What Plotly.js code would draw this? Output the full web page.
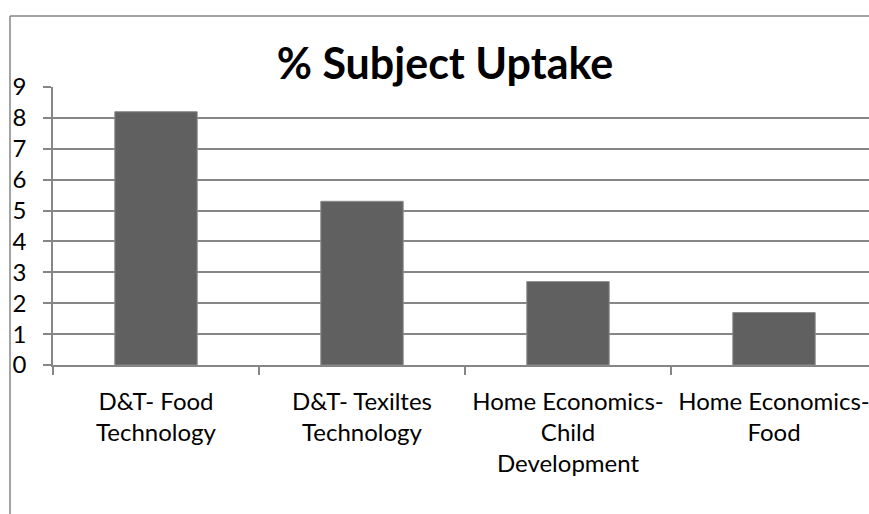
<!DOCTYPE html>
<html>
<head>
<meta charset="utf-8">
<script src="https://cdn.plot.ly/plotly-3.0.1.min.js"></script>
<style>
html,body{margin:0;padding:0;overflow:hidden;background:#fff;width:869px;height:514px;}
#chart{width:890px;height:514px;}
</style>
</head>
<body>
<div id="chart"></div>
<script>
const categories = [
  "D&T- Food<br>Technology",
  "D&T- Texiltes<br>Technology",
  "Home Economics-<br>Child<br>Development",
  "Home Economics-<br>Food"
];
const uptake = [8.2, 5.3, 2.7, 1.7];
const yTicks = [0, 1, 2, 3, 4, 5, 6, 7, 8, 9];
const titleText = "% Subject Uptake";

const FONT = "Lato, Carlito, Calibri, sans-serif";
const GRID = "#868686";

const W = 890, H = 514, ML = 53, MR = 13, MT = 87, MB = 149;
const pw = W - ML - MR, ph = H - MT - MB;

Plotly.newPlot("chart", [{
  type: "bar",
  x: categories,
  y: uptake,
  marker: {color: "#606060", line: {color: "#8c8c8c", width: 1}},
  hoverinfo: "x+y"
}], {
  width: W, height: H,
  margin: {l: ML, r: MR, t: MT, b: MB, pad: 0},
  paper_bgcolor: "#ffffff",
  plot_bgcolor: "#ffffff",
  showlegend: false,
  bargap: 0.6,
  font: {family: FONT, color: "#000000", size: 24},
  title: {
    text: "<b>" + titleText + "</b>",
    font: {family: FONT, size: 43, color: "#000000"},
    xref: "paper", x: (445 - ML) / pw, xanchor: "center",
    yref: "container", y: 1 - 64 / H, yanchor: "middle"
  },
  xaxis: {
    type: "category",
    showline: true, linecolor: GRID, linewidth: 1.5,
    ticks: "outside", ticklen: 8, tickcolor: GRID, tickwidth: 1.5,
    tickson: "boundaries",
    showgrid: false, zeroline: false,
    tickfont: {family: FONT, size: 24, color: "#000000"},
    ticklabelstandoff: 14,
    fixedrange: true
  },
  yaxis: {
    range: [0, 9],
    tickvals: yTicks,
    ticktext: yTicks.map(String),
    showline: true, linecolor: GRID, linewidth: 1.5,
    ticks: "outside", ticklen: 8, tickcolor: GRID, tickwidth: 1.5,
    showgrid: true, gridcolor: GRID, gridwidth: 1.5,
    zeroline: false,
    tickfont: {family: FONT, size: 24, color: "#000000"},
    ticklabelstandoff: 12,
    fixedrange: true
  },
  shapes: [
    {type: "line", xref: "paper", yref: "paper",
     x0: (10 - ML) / pw, x1: (10 - ML) / pw, y0: (H - MB - 16) / ph, y1: (H - MB - 520) / ph,
     line: {color: GRID, width: 1.5}},
    {type: "line", xref: "paper", yref: "paper",
     x0: (10 - ML) / pw, x1: (900 - ML) / pw, y0: (H - MB - 16) / ph, y1: (H - MB - 16) / ph,
     line: {color: GRID, width: 1.5}}
  ]
}, {displayModeBar: false, staticPlot: false});
</script>
</body>
</html>
